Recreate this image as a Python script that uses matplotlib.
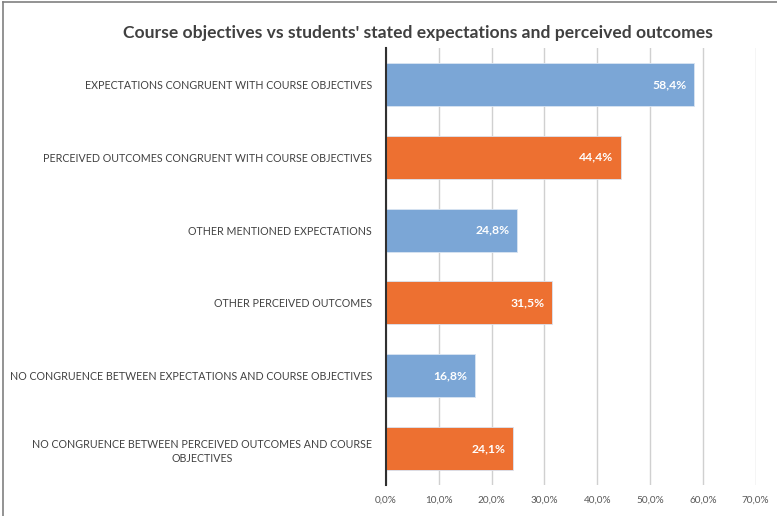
import matplotlib.pyplot as plt
from matplotlib.lines import Line2D

plt.rcParams['font.family'] = ['Lato', 'DejaVu Sans']

categories = [
    'EXPECTATIONS CONGRUENT WITH COURSE OBJECTIVES',
    'PERCEIVED OUTCOMES CONGRUENT WITH COURSE OBJECTIVES',
    'OTHER MENTIONED EXPECTATIONS',
    'OTHER PERCEIVED OUTCOMES',
    'NO CONGRUENCE BETWEEN EXPECTATIONS AND COURSE OBJECTIVES',
    'NO CONGRUENCE BETWEEN PERCEIVED OUTCOMES AND COURSE\nOBJECTIVES',
]
values = [58.4, 44.4, 24.8, 31.5, 16.8, 24.1]
bar_colors = ['#7BA6D6', '#ED7031', '#7BA6D6', '#ED7031', '#7BA6D6', '#ED7031']
xticks = [0, 10, 20, 30, 40, 50, 60, 70]
title = "Course objectives vs students' stated expectations and perceived outcomes"

fig = plt.figure(figsize=(7.77, 5.16), dpi=100)
ax = fig.add_axes([0.4968, 0.060, 0.4758, 0.847])

y = list(range(len(categories)))
bars = ax.barh(y, values, height=0.59, color=bar_colors, edgecolor='#D9E4F2', linewidth=0.6, zorder=3)
ax.set_ylim(len(categories) - 0.5, -0.5)
ax.set_xlim(0, 70)

for b, v in zip(bars, values):
    ax.text(v - 1.4, b.get_y() + b.get_height() / 2, f'{v:.1f}%'.replace('.', ','),
            ha='right', va='center', color='white', fontsize=8.7, fontweight='bold', zorder=4)

ax.set_yticks(y)
ax.set_yticklabels(categories, fontsize=7.7, color='#404040', multialignment='center', linespacing=1.35)
ax.tick_params(axis='y', length=0, pad=10)
ax.set_xticks(xticks)
ax.set_xticklabels([f'{t:.1f}%'.replace('.', ',') for t in xticks], fontsize=7.2, color='#595959')
ax.tick_params(axis='x', length=0, pad=8)
ax.grid(axis='x', color='#D0D0D0', linewidth=1, zorder=0)
for s in ['top', 'right', 'bottom']:
    ax.spines[s].set_visible(False)
ax.spines['left'].set_color('#303030')
ax.spines['left'].set_linewidth(1.5)
ax.spines['left'].set_zorder(5)

fig.text(0.538, 0.937, title, ha='center', va='center', fontsize=12.6, fontweight='bold', color='#404040')

fig.add_artist(Line2D([0.004, 0.004], [0, 0.996], color='#808080', linewidth=1.2))
fig.add_artist(Line2D([0.004, 1], [0.996, 0.996], color='#808080', linewidth=1.2))

fig.savefig('out.png', dpi=100)
